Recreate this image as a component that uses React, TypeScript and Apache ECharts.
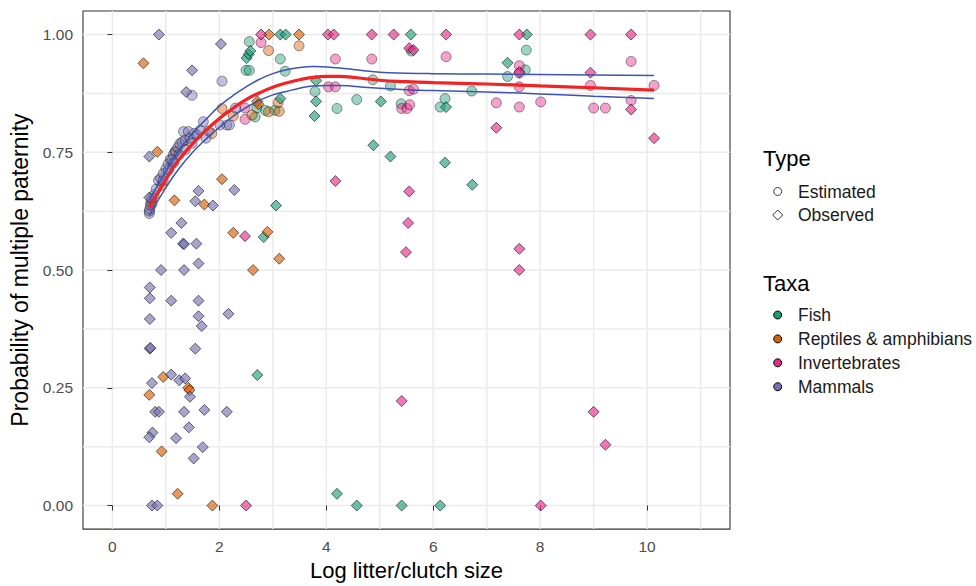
import React, { useEffect, useRef } from "react";
import * as echarts from "echarts";

const FONT = "'Liberation Sans', Arial, Helvetica, sans-serif";

const taxaNames = ["Fish", "Reptiles & amphibians", "Invertebrates", "Mammals"];
const taxaColors = ["#1b9e77", "#d95f02", "#e7298a", "#7570b3"];
const typeNames = ["Estimated", "Observed"];

const xTicks = [0, 2, 4, 6, 8, 10];
const xMinor = [1, 3, 5, 7, 9, 11];
const yTicks = [0, 0.25, 0.5, 0.75, 1];
const yMinor = [0.125, 0.375, 0.625, 0.875];

const fishEstimated = [
  [2.56, 0.985], [2.5, 0.924], [2.56, 0.924], [3.14, 0.948], [3.23, 0.922], [3.79, 0.879],
  [4.2, 0.843], [4.57, 0.862], [4.87, 0.904], [5.2, 0.891], [5.4, 0.853], [5.59, 0.965],
  [6.13, 0.846], [6.22, 0.864], [6.72, 0.88], [7.39, 0.911], [7.72, 0.925], [7.74, 0.967],
  [2.86, 0.839], [3.04, 0.839], [2.7, 0.844], [2.67, 0.825],
];
const fishObserved = [
  [2.51, 0.95], [2.55, 0.958], [2.58, 0.965], [3.14, 1.0], [3.24, 1.0], [5.58, 1.0], [7.75, 1.0],
  [3.81, 0.902], [3.81, 0.858], [3.78, 0.827], [3.14, 0.864], [5.02, 0.858], [6.24, 0.846],
  [4.88, 0.765], [5.2, 0.741], [6.22, 0.728], [6.73, 0.681], [7.39, 0.94], [3.06, 0.637],
  [2.83, 0.57], [2.71, 0.277], [4.2, 0.025], [4.57, 0], [5.41, 0], [6.13, 0],
];
const reptilesEstimated = [
  [2.92, 0.966], [3.49, 0.976], [3.1, 0.855], [2.92, 0.836], [3.12, 0.837], [2.61, 0.829],
  [2.26, 0.827], [2.05, 0.843], [1.86, 0.79], [1.17, 0.751], [0.92, 0.68], [0.74, 0.64],
];
const reptilesObserved = [
  [0.58, 0.939], [0.84, 0.751], [1.16, 0.648], [1.72, 0.639], [2.05, 0.693], [2.26, 0.579],
  [2.9, 0.581], [3.12, 0.524], [2.63, 0.5], [2.71, 0.858], [2.73, 0.852], [2.93, 1.0], [3.49, 1.0],
  [0.95, 0.273], [1.42, 0.25], [1.44, 0.245], [0.69, 0.235], [0.92, 0.115], [1.22, 0.025], [1.87, 0],
];
const invertebratesEstimated = [
  [2.78, 0.983], [4.17, 0.948], [4.85, 0.948], [6.24, 0.953], [4.04, 0.889], [4.17, 0.889],
  [5.55, 0.881], [5.63, 0.884], [5.41, 0.843], [5.51, 0.843], [5.56, 0.851], [7.18, 0.855],
  [7.61, 0.934], [7.61, 0.918], [7.61, 0.889], [7.61, 0.846], [8.01, 0.857], [8.94, 0.892],
  [9.0, 0.844], [9.22, 0.844], [9.7, 0.943], [9.7, 0.86], [10.13, 0.892], [2.48, 0.844], [2.48, 0.82],
];
const invertebratesObserved = [
  [2.78, 1.0], [4.03, 1.0], [4.14, 1.0], [4.85, 1.0], [5.26, 1.0], [6.24, 1.0], [7.61, 1.0],
  [8.94, 1.0], [9.7, 1.0], [5.55, 0.971], [5.63, 0.967], [7.61, 0.92], [8.94, 0.919], [9.7, 0.841],
  [7.18, 0.802], [10.13, 0.78], [4.17, 0.689], [5.55, 0.667], [5.53, 0.6], [5.49, 0.538],
  [7.61, 0.545], [7.61, 0.5], [2.48, 0.572], [5.41, 0.222], [9.0, 0.199], [9.22, 0.129],
  [2.5, 0], [8.01, 0],
];
const mammalsEstimated = [
  [0.69, 0.62], [0.69, 0.625], [0.7, 0.63], [0.71, 0.638], [0.72, 0.645], [0.74, 0.652],
  [0.78, 0.66], [0.82, 0.672], [0.86, 0.69], [0.9, 0.695], [0.95, 0.705], [1.0, 0.715],
  [1.04, 0.725], [1.08, 0.735], [1.11, 0.734], [1.14, 0.745], [1.18, 0.752], [1.22, 0.76],
  [1.26, 0.768], [1.3, 0.772], [1.33, 0.794], [1.36, 0.776], [1.42, 0.794], [1.45, 0.78],
  [1.49, 0.769], [1.53, 0.79], [1.58, 0.787], [1.64, 0.797], [1.7, 0.815], [1.75, 0.78],
  [1.8, 0.795], [2.01, 0.808], [1.36, 0.755], [1.25, 0.745], [1.15, 0.728], [1.05, 0.712],
  [0.95, 0.69], [2.05, 0.901], [1.49, 0.871], [2.14, 0.808], [2.19, 0.808], [2.3, 0.844],
];
const mammalsObserved = [
  [0.87, 1.0], [2.03, 0.98], [1.49, 0.924], [1.38, 0.878], [0.69, 0.741], [1.61, 0.668],
  [2.28, 0.67], [1.55, 0.646], [1.88, 0.637], [0.69, 0.654], [1.29, 0.6], [1.1, 0.579],
  [1.32, 0.556], [1.34, 0.555], [1.57, 0.556], [1.61, 0.514], [0.91, 0.5], [1.34, 0.5],
  [0.7, 0.463], [0.7, 0.44], [1.1, 0.435], [1.61, 0.435], [0.7, 0.396], [1.61, 0.402],
  [1.67, 0.381], [2.17, 0.407], [0.7, 0.333], [0.71, 0.335], [1.55, 0.333], [1.1, 0.278],
  [0.74, 0.26], [1.25, 0.266], [1.36, 0.27], [1.45, 0.231], [0.8, 0.199], [0.87, 0.199],
  [1.34, 0.199], [1.72, 0.203], [2.14, 0.199], [1.43, 0.166], [0.75, 0.155], [0.69, 0.145],
  [1.19, 0.143], [1.69, 0.124], [1.52, 0.1], [0.74, 0], [0.84, 0],
];

const smoothX = [0.69, 1.0, 1.25, 1.5, 1.75, 2.0, 2.25, 2.5, 2.75, 3.0, 3.25, 3.5, 3.75, 4.0, 4.25, 4.5, 5.0, 5.5, 6.0, 7.0, 8.0, 9.0, 10.13];
const smoothFit = [0.632, 0.692, 0.735, 0.768, 0.797, 0.822, 0.843, 0.862, 0.876, 0.888, 0.897, 0.904, 0.909, 0.911, 0.911, 0.909, 0.903, 0.9, 0.898, 0.895, 0.891, 0.887, 0.882];
const smoothUpper = [0.648, 0.71, 0.755, 0.79, 0.82, 0.848, 0.87, 0.889, 0.905, 0.917, 0.925, 0.93, 0.932, 0.931, 0.929, 0.926, 0.92, 0.918, 0.917, 0.916, 0.915, 0.914, 0.913];
const smoothLower = [0.616, 0.675, 0.716, 0.75, 0.778, 0.803, 0.826, 0.845, 0.86, 0.872, 0.879, 0.886, 0.891, 0.892, 0.892, 0.89, 0.886, 0.883, 0.881, 0.878, 0.874, 0.869, 0.864];

const estimatedSets = [fishEstimated, reptilesEstimated, invertebratesEstimated, mammalsEstimated];
const observedSets = [fishObserved, reptilesObserved, invertebratesObserved, mammalsObserved];

function rgba(hex: string, a: number) {
  const n = parseInt(hex.slice(1), 16);
  return `rgba(${(n >> 16) & 255},${(n >> 8) & 255},${n & 255},${a})`;
}

export default function App() {
  const ref = useRef<HTMLDivElement>(null);
  useEffect(() => {
    if (!ref.current) return;
    const chart = echarts.init(ref.current, null, { renderer: "svg" });

    const gridData: number[][] = [];
    xTicks.forEach((v) => gridData.push([v, 0]));
    xMinor.forEach((v) => gridData.push([v, 0]));
    yTicks.forEach((v) => gridData.push([v, 1]));
    yMinor.forEach((v) => gridData.push([v, 1]));

    const series: any[] = [];
    series.push({
      type: "custom",
      silent: true,
      z: 0,
      data: gridData,
      encode: { x: 0, y: 0 },
      renderItem: (params: any, api: any) => {
        const v = api.value(0);
        const isY = api.value(1) === 1;
        const cs = params.coordSys;
        if (!isY) {
          const p = api.coord([v, 0]);
          return {
            type: "line",
            shape: { x1: p[0], y1: cs.y, x2: p[0], y2: cs.y + cs.height },
            style: { stroke: "#ebebeb", lineWidth: 1.5 },
          };
        }
        const p = api.coord([0, v]);
        return {
          type: "line",
          shape: { x1: cs.x, y1: p[1], x2: cs.x + cs.width, y2: p[1] },
          style: { stroke: "#ebebeb", lineWidth: 1.5 },
        };
      },
    });

    estimatedSets.forEach((d, i) => {
      series.push({
        type: "scatter",
        name: taxaNames[i] + " estimated",
        data: d,
        symbol: "circle",
        symbolSize: 10,
        z: 2,
        itemStyle: {
          color: rgba(taxaColors[i], 0.55),
          borderColor: "rgba(0,0,0,0.5)",
          borderWidth: 1,
        },
      });
    });
    observedSets.forEach((d, i) => {
      series.push({
        type: "scatter",
        name: taxaNames[i] + " observed",
        data: d,
        symbol: "diamond",
        symbolSize: 11,
        z: 3,
        itemStyle: {
          color: rgba(taxaColors[i], 0.8),
          borderColor: "rgba(0,0,0,0.7)",
          borderWidth: 1,
        },
      });
    });

    const mk = (ys: number[]) => smoothX.map((x, i) => [x, ys[i]]);
    series.push({
      type: "line",
      data: mk(smoothUpper),
      smooth: true,
      symbol: "none",
      z: 4,
      lineStyle: { color: "#3b54b4", width: 1.5 },
    });
    series.push({
      type: "line",
      data: mk(smoothLower),
      smooth: true,
      symbol: "none",
      z: 4,
      lineStyle: { color: "#3b54b4", width: 1.5 },
    });
    series.push({
      type: "line",
      data: mk(smoothFit),
      smooth: true,
      symbol: "none",
      z: 5,
      lineStyle: { color: "#f42222", width: 3.2 },
    });

    const legendX = 763;
    const symX = 777.7;
    const textX = 798;
    const graphics: any[] = [];
    graphics.push({
      type: "text", x: legendX, y: 158,
      style: { text: "Type", font: `22px ${FONT}`, fill: "#000", textVerticalAlign: "middle" },
    });
    graphics.push({
      type: "circle", shape: { cx: symX, cy: 191.5, r: 4 },
      style: { fill: "#fff", stroke: "#333", lineWidth: 1 },
    });
    graphics.push({
      type: "polygon",
      shape: { points: [[symX, 210], [symX + 5, 215], [symX, 220], [symX - 5, 215]] },
      style: { fill: "#fff", stroke: "#333", lineWidth: 1 },
    });
    typeNames.forEach((t, i) => {
      graphics.push({
        type: "text", x: textX, y: 191.5 + i * 23.5,
        style: { text: t, font: `17.5px ${FONT}`, fill: "#1a1a1a", textVerticalAlign: "middle" },
      });
    });
    graphics.push({
      type: "text", x: legendX, y: 283,
      style: { text: "Taxa", font: `22px ${FONT}`, fill: "#000", textVerticalAlign: "middle" },
    });
    taxaNames.forEach((t, i) => {
      const cy = 315 + i * 23.9;
      graphics.push({
        type: "circle", shape: { cx: symX, cy, r: 4 },
        style: { fill: taxaColors[i], stroke: "#000", lineWidth: 1 },
      });
      graphics.push({
        type: "text", x: textX, y: cy,
        style: { text: t, font: `17.5px ${FONT}`, fill: "#1a1a1a", textVerticalAlign: "middle" },
      });
    });

    chart.setOption({
      animation: false,
      backgroundColor: "#fff",
      textStyle: { fontFamily: FONT },
      grid: {
        left: 83, top: 11, width: 647, height: 523,
        show: true, borderColor: "#333", borderWidth: 1.1, backgroundColor: "#fff",
      },
      xAxis: {
        type: "value",
        min: -0.55,
        max: 11.55,
        axisLine: { show: false },
        splitLine: { show: false },
        axisTick: { show: true, length: 5, lineStyle: { color: "#333" }, customValues: xTicks },
        axisLabel: {
          customValues: xTicks, color: "#4d4d4d", fontSize: 15.5, margin: 9, fontFamily: FONT,
        },
        name: "Log litter/clutch size",
        nameLocation: "middle",
        nameGap: 29,
        nameTextStyle: { fontSize: 22, color: "#000", fontFamily: FONT },
      },
      yAxis: {
        type: "value",
        min: -0.05,
        max: 1.05,
        axisLine: { show: false },
        splitLine: { show: false },
        axisTick: { show: true, length: 5, lineStyle: { color: "#333" }, customValues: yTicks },
        axisLabel: {
          customValues: yTicks, color: "#4d4d4d", fontSize: 15.5, margin: 10, fontFamily: FONT,
          formatter: (v: number) => v.toFixed(2),
        },
        name: "Probability of multiple paternity",
        nameLocation: "middle",
        nameGap: 50,
        nameTextStyle: { fontSize: 23, color: "#000", fontFamily: FONT },
      },
      series,
      graphic: graphics,
    });
    return () => chart.dispose();
  }, []);
  return (
    <div
      ref={ref}
      style={{ position: "fixed", left: 0, top: 0, width: 976, height: 586, background: "#fff" }}
    />
  );
}
